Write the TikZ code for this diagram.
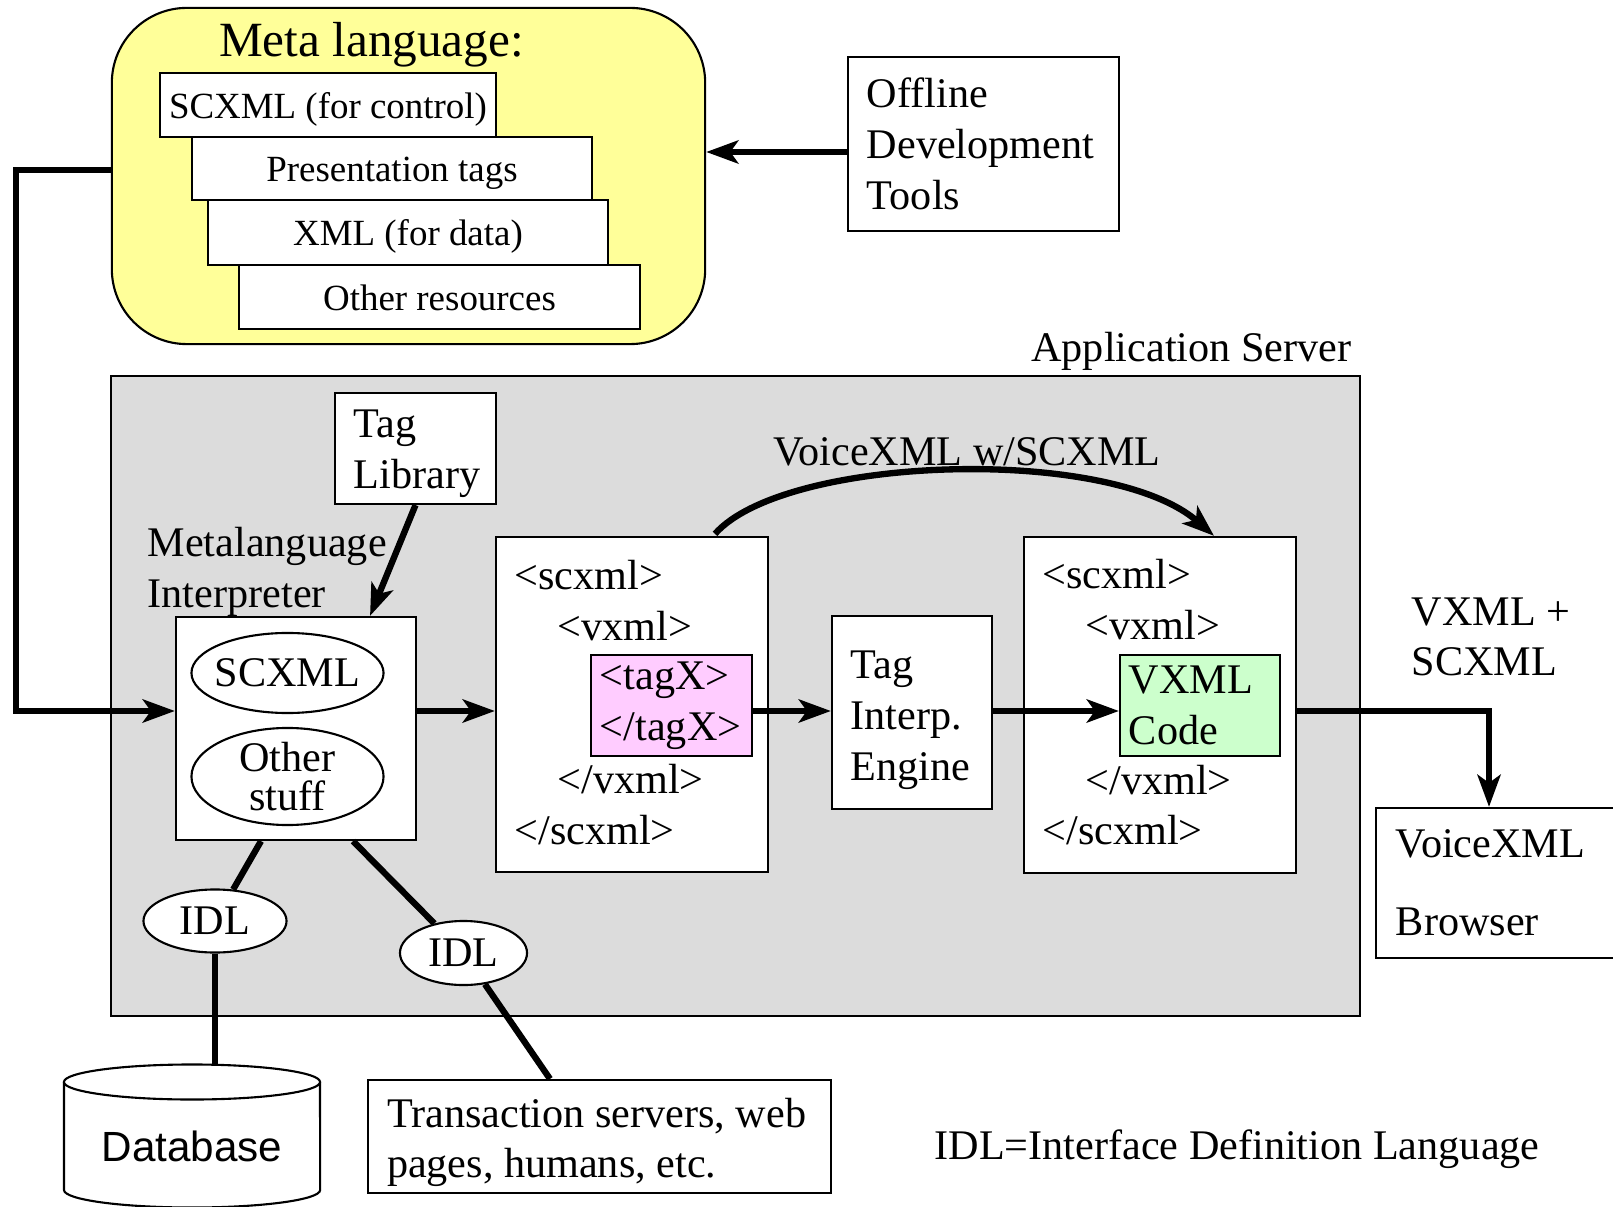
\documentclass[tikz,border=0pt]{standalone}
\usepackage{fontspec}
\setmainfont{Liberation Serif}
\setsansfont{Liberation Sans}
\usetikzlibrary{arrows.meta,shapes.geometric,calc}

\definecolor{metayellow}{RGB}{255,255,153}
\definecolor{srvgray}{RGB}{220,220,220}
\definecolor{tagpink}{RGB}{255,204,255}
\definecolor{codegreen}{RGB}{204,255,204}
\newcommand{\picfont}{\fontsize{12}{14.4}\selectfont}

\tikzstyle{boxstyle}=[draw=black, fill=white, line width=0.6pt]
\tikzstyle{leftbox}=[boxstyle, align=left, inner xsep=0.19cm]
\tikzstyle{layerstyle}=[boxstyle, font=\fontsize{10.5}{12.6}\selectfont, text height=0.37cm, text depth=0.1cm]
\tikzstyle{ellstyle}=[boxstyle, ellipse]
\tikzstyle{flow}=[line width=1.8pt, -{Stealth[length=0.32cm, width=0.23cm, inset=0.08cm]}]
\tikzstyle{wire}=[line width=1.8pt]

\begin{document}
\begin{tikzpicture}[x=0.01cm, y=-0.01cm, font=\picfont, inner sep=0pt]

      % picture is laid out in pixels of the original, y going down
      \useasboundingbox (0,0) rectangle (1613,1207);
      \coordinate (flow) at (0,711); % height of the main data flow
      \coordinate (drop) at (1489,0); % where the output turns down

      % Meta language part
      \node[boxstyle, fill=metayellow, rounded corners=0.75cm, minimum width=5.93cm, minimum height=3.36cm] at (408.5,176) (meta) {};
      \node[anchor=base, font=\fontsize{14}{16.8}\selectfont] at (371.5,57) (metatitle) {Meta language:};
      \node[layerstyle, minimum width=3.36cm, minimum height=0.64cm] at (328,105) (lcontrol) {SCXML (for control)};
      \node[layerstyle, minimum width=4cm, minimum height=0.63cm] at (392,168.5) (lpresent) {Presentation tags};
      \node[layerstyle, minimum width=4cm, minimum height=0.65cm] at (408,232.5) (ldata) {XML (for data)};
      \node[layerstyle, minimum width=4.01cm, minimum height=0.64cm] at (439.5,297) (lother) {Other resources};

      % offline tools feed the meta language
      \node[leftbox, text width=2.33cm, minimum height=1.74cm] at (983.5,144) (tools) {Offline\\Development\\Tools};
      \draw[flow] ([yshift=-0.08cm]tools.west) -- ([yshift=-0.08cm]tools.west -| meta.east);

      % Application server
      \node[boxstyle, fill=srvgray, minimum width=12.49cm, minimum height=6.395cm] at (735.5,696) (appsrv) {};
      \node[anchor=base east] at (1352,362) (srvlabel) {Application Server};

      % interpreter and tag library
      \node[boxstyle, minimum width=1.61cm, minimum height=1.11cm] at (415.5,448.5) (taglib) {};
      \node[anchor=west, align=left] at ($(taglib.west)+(19,5)$) (taglibtext) {Tag\\Library};
      \node[anchor=west, align=left] at (147,572) (interplabel) {Metalanguage\\Interpreter};
      \node[boxstyle, minimum width=2.4cm, minimum height=2.23cm] at (296,728.5) (interp) {};
      \node[ellstyle, inner xsep=-0.05cm, minimum width=1.92cm, minimum height=0.8cm] at (287.5,673) (escxml) {SCXML};
      \node[ellstyle, align=center, minimum width=1.92cm, minimum height=0.97cm] at (287.5,776.5) (eother) {Other\\[-0.12cm]stuff};
      \draw[flow] (taglib.south) -- ([xshift=0.74cm]interp.north);

      % first document
      \node[boxstyle, minimum width=2.72cm, minimum height=3.35cm] at (632,704.5) (doc1) {};
      \node[anchor=west] at ($(doc1.north west)+(19,39)$) (d1open) {<scxml>};
      \node[anchor=west] at ($(doc1.north west)+(62,90)$) (d1vopen) {<vxml>};
      \node[anchor=west] at ($(doc1.north west)+(62,243)$) (d1vclose) {</vxml>};
      \node[anchor=west] at ($(doc1.north west)+(19,294)$) (d1close) {</scxml>};
      \node[leftbox, fill=tagpink, inner xsep=0.09cm, text width=1.43cm, minimum height=1.01cm] at (671.5,705.5) (tagx) {<tagX>\\</tagX>};

      % tag interpreter
      \node[boxstyle, minimum width=1.6cm, minimum height=1.926cm] at (912,712.3) (engine) {};
      \node[anchor=west, align=left] at ($(engine.west)+(19,8)$) (enginetext) {Tag\\Interp.\\Engine};

      % second document
      \node[boxstyle, minimum width=2.72cm, minimum height=3.36cm] at (1160,705) (doc2) {};
      \node[anchor=west] at ($(doc2.north west)+(19,38)$) (d2open) {<scxml>};
      \node[anchor=west] at ($(doc2.north west)+(62,89)$) (d2vopen) {<vxml>};
      \node[anchor=west] at ($(doc2.north west)+(62,244)$) (d2vclose) {</vxml>};
      \node[anchor=west] at ($(doc2.north west)+(19,294)$) (d2close) {</scxml>};
      \node[leftbox, fill=codegreen, inner xsep=0.09cm, text width=1.42cm, minimum height=1.01cm] at (1200,705.5) (vxml) {VXML\\Code};

      % browser outside the server
      \node[leftbox, inner xsep=0.2cm, text width=2.14cm, minimum height=1.5cm] at (1503,883) (browser) {VoiceXML\\[0.27cm]Browser};
      \node[anchor=west, align=left] at (1411,637) (outlabel) {VXML +\\SCXML};

      % main flow
      \draw[flow] ([yshift=0.06cm]meta.west) -- ++(-95,0) |- (interp.west |- flow);
      \draw[flow] (interp.east |- flow) -- (doc1.west |- flow);
      \draw[flow] (tagx.east |- flow) -- (engine.west |- flow);
      \draw[flow] (engine.east |- flow) -- (vxml.west |- flow);
      \draw[flow] (doc2.east |- flow) -| (drop |- browser.north);
      \draw[flow] ($(doc1.north)+(83,-2)$) .. controls (785,455) and (1110,445) .. ($(doc2.north)+(54,0)$);
      \node at (967,452) (curvelabel) {VoiceXML w/SCXML};

      % IDL links
      \node[ellstyle, minimum width=1.43cm, minimum height=0.63cm] at (215,921) (idl1) {IDL};
      \node[ellstyle, minimum width=1.27cm, minimum height=0.64cm] at (463.5,953) (idl2) {IDL};
      \draw[wire] ([xshift=-0.35cm]interp.south) -- (idl1);
      \draw[wire] ([xshift=0.57cm]interp.south) -- (idl2);

      % database
      \coordinate (dbtop) at (192,1065);
      \draw[boxstyle] (64,1082) -- (64,1190) arc[start angle=180, end angle=360, x radius=1.28cm, y radius=0.175cm] -- (320,1082);
      \draw[boxstyle] (192,1082) ellipse [x radius=1.28cm, y radius=0.175cm];
      \node[font=\sffamily\picfont] at (192,1146) (db) {Database};
      \draw[wire] (idl1) -- (idl1 |- dbtop);

      % other back ends
      \node[boxstyle, minimum width=4.63cm, minimum height=1.13cm] at (599.5,1136.5) (trans) {};
      \node[anchor=west, align=left] at ($(trans.west)+(19.5,6)$) (transtext) {Transaction servers, web\\pages, humans, etc.};
      \draw[wire] (idl2) -- ([xshift=-0.495cm]trans.north);

      \node at (1237,1149) (idlnote) {IDL=Interface Definition Language};

\end{tikzpicture}
\end{document}
